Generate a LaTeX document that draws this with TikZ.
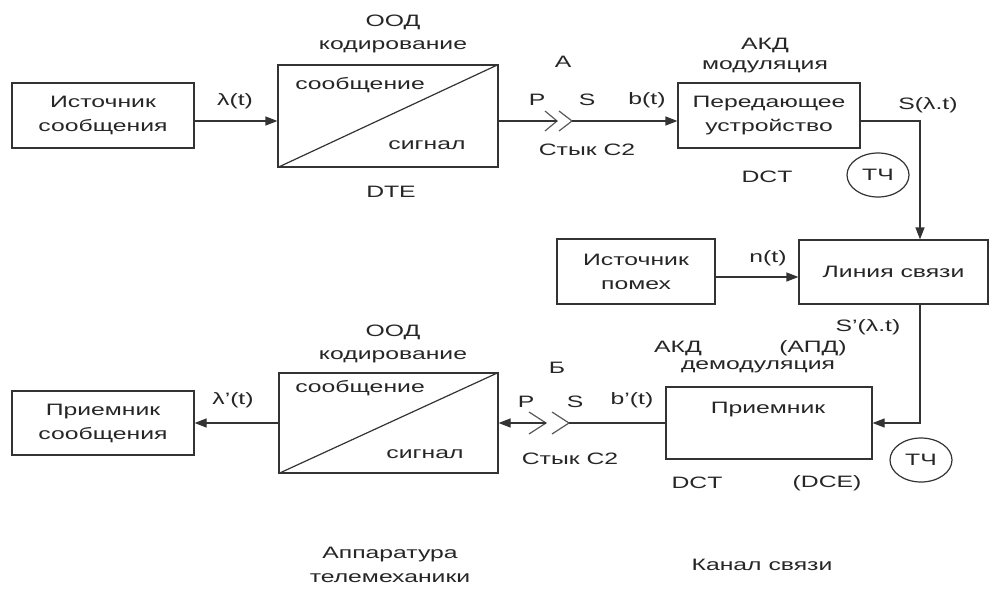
\documentclass[tikz,border=0pt]{standalone}
\usepackage{fontspec}
\setmainfont{Liberation Sans}[FakeStretch=1.5]
\usetikzlibrary{arrows.meta,shapes.geometric}
\begin{document}
\begin{tikzpicture}[x=1pt,y=-1pt,
  every node/.style={text=black!85,font=\fontsize{16.5}{24}\selectfont},
  box/.style={draw=black!80,line width=1.2pt,inner sep=0pt,align=center},
  lbl/.style={inner sep=0pt,align=center},
  ln/.style={draw=black!80,line width=1.2pt},
  arr/.style={ln,-{Triangle[length=12pt,width=9pt]}},
  chev/.style={draw=black!65,line width=1.2pt},
  tch/.style={draw=black!80,line width=1.2pt,ellipse,minimum width=62pt,minimum height=44pt,inner sep=0pt}]
\useasboundingbox[fill=white] (0,0) rectangle (995,589);
% boxes
\node[box,minimum width=182pt,minimum height=65pt] (src) at (103,115.5) {Источник\\сообщения};
\node[box,minimum width=220pt,minimum height=102pt] (ood1) at (388,116) {};
\node[box,minimum width=182pt,minimum height=65pt] (tx) at (769,115.5) {Передающее\\устройство};
\node[box,minimum width=158pt,minimum height=65pt] (noise) at (636,271.5) {Источник\\помех};
\node[box,minimum width=189pt,minimum height=64pt] (line) at (893.5,272) {Линия связи};
\node[box,minimum width=206pt,minimum height=72pt] (rx) at (769,423) {};
\node[box,minimum width=219pt,minimum height=100pt] (ood2) at (388.5,423) {};
\node[box,minimum width=182pt,minimum height=64pt] (dst) at (103,423) {Приемник\\сообщения};
\draw[ln] (ood1.south west) -- (ood1.north east);
\draw[ln] (ood2.south west) -- (ood2.north east);
% coordinates
\coordinate (pA) at (557,121);
\coordinate (sA) at (572,121);
\coordinate (pB) at (546,423);
\coordinate (sB) at (569,423);
\coordinate (k) at (920,0);
\coordinate (nz) at (0,277);
% chevrons
\draw[chev] (pA) ++(-12,-10) -- (pA) -- ++(-12,10);
\draw[chev] (sA) ++(-13,-10) -- (sA) -- ++(-13,10);
\draw[chev] (pB) ++(-17,-11) -- (pB) -- ++(-17,11);
\draw[chev] (sB) ++(-17,-11) -- (sB) -- ++(-17,11);
% connectors
\draw[arr] (src.east |- sA) -- (ood1.west |- sA);
\draw[ln] (ood1.east |- pA) -- (pA);
\draw[arr] (sA) -- (tx.west |- sA);
\draw[arr] (tx.east |- sA) -| (k |- line.north);
\draw[arr] (noise.east |- nz) -- (line.west |- nz);
\draw[arr] (k |- line.south) |- (rx.east);
\draw[ln] (rx.west) -- (sB);
\draw[arr] (pB) -- (ood2.east |- pB);
\draw[arr] (ood2.west) -- (dst.east);
% ellipses
\node[tch] (tch1) at (878,175) {ТЧ};
\node[tch] (tch2) at (921,460) {ТЧ};
% labels top
\node[lbl] (l1) at (235,101) {λ(t)};
\node[lbl] (l2) at (393,22) {ООД};
\node[lbl] (l3) at (393,47) {кодирование};
\node[lbl] (l4) at (360,85) {сообщение};
\node[lbl] (l5) at (427,145) {сигнал};
\node[lbl] (l6) at (391,192) {DTE};
\node[lbl] (l7) at (563,62) {А};
\node[lbl] (l8) at (537,100) {P};
\node[lbl] (l9) at (587,100) {S};
\node[lbl] (l10) at (647,100) {b(t)};
\node[lbl] (l11) at (587,150) {Стык С2};
\node[lbl] (l12) at (765,45) {АКД};
\node[lbl] (l13) at (765,67) {модуляция};
\node[lbl] (l14) at (767,177) {DCT};
\node[lbl] (l15) at (928,105) {S(λ.t)};
\node[lbl] (l16) at (768,258) {n(t)};
% labels bottom
\node[lbl] (m1) at (868,327) {S'(λ.t)};
\node[lbl] (m2) at (678,348) {АКД};
\node[lbl] (m3) at (813,348) {(АПД)};
\node[lbl] (m4) at (758,367) {демодуляция};
\node[lbl] (m5) at (768,410) {Приемник};
\node[lbl] (m6) at (697,483) {DCT};
\node[lbl] (m7) at (827,483) {(DCE)};
\node[lbl] (m8) at (557,368) {Б};
\node[lbl] (m9) at (526,402) {P};
\node[lbl] (m10) at (575,402) {S};
\node[lbl] (m11) at (632,400) {b'(t)};
\node[lbl] (m12) at (570,459) {Стык С2};
\node[lbl] (m13) at (393,332) {ООД};
\node[lbl] (m14) at (393,357) {кодирование};
\node[lbl] (m15) at (360,388) {сообщение};
\node[lbl] (m16) at (425,454) {сигнал};
\node[lbl] (m17) at (233,400) {λ'(t)};
\node[lbl] (b1) at (390,555) {Аппаратура};
\node[lbl] (b2) at (390,578) {телемеханики};
\node[lbl] (b3) at (762,565) {Канал связи};
\end{tikzpicture}
\end{document}
